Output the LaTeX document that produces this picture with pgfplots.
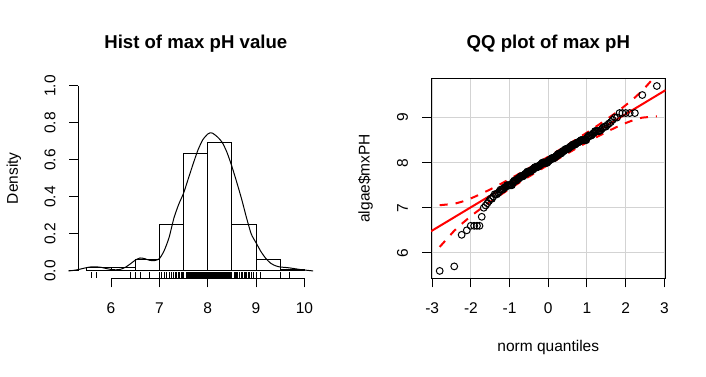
\documentclass[border=0pt]{standalone}
\usepackage{pgfplots}
\pgfplotsset{compat=1.18}
\usepackage{pgfplotstable}
\usepackage{fontspec}
\setmainfont{Liberation Sans}
\definecolor{rgray}{HTML}{D3D3D3}
\definecolor{rred}{HTML}{FF0000}
\newcommand\lab{\fontsize{15.5pt}{18pt}\selectfont}
\newcommand\ttl{\fontsize{18.6pt}{22pt}\selectfont\bfseries}

% sorted max pH values (v) against normal quantiles (z); r = rug height
\pgfplotstableread{
z v r
-2.807 5.6 -0.024
-2.431 5.7 -0.024
-2.239 6.4 -0.024
-2.106 6.5 -0.024
-2.003 6.6 -0.024
-1.916 6.6 -0.024
-1.843 6.6 -0.024
-1.778 6.6 -0.024
-1.720 6.8 -0.024
-1.667 7.0 -0.024
-1.619 7.05 -0.024
-1.574 7.1 -0.024
-1.532 7.15 -0.024
-1.492 7.2 -0.024
-1.455 7.2 -0.024
-1.420 7.25 -0.024
-1.386 7.3 -0.024
-1.354 7.3 -0.024
-1.323 7.3 -0.024
-1.294 7.33 -0.024
-1.265 7.36 -0.024
-1.237 7.4 -0.024
-1.210 7.4 -0.024
-1.185 7.4 -0.024
-1.160 7.42 -0.024
-1.135 7.45 -0.024
-1.112 7.45 -0.024
-1.089 7.47 -0.024
-1.066 7.5 -0.024
-1.044 7.5 -0.024
-1.022 7.5 -0.024
-1.001 7.5 -0.024
-0.981 7.5 -0.024
-0.961 7.5 -0.024
-0.941 7.5 -0.024
-0.922 7.55 -0.024
-0.903 7.57 -0.024
-0.884 7.6 -0.024
-0.865 7.6 -0.024
-0.847 7.6 -0.024
-0.830 7.6 -0.024
-0.812 7.62 -0.024
-0.795 7.64 -0.024
-0.777 7.65 -0.024
-0.760 7.65 -0.024
-0.744 7.66 -0.024
-0.727 7.68 -0.024
-0.711 7.7 -0.024
-0.695 7.7 -0.024
-0.678 7.7 -0.024
-0.663 7.7 -0.024
-0.647 7.7 -0.024
-0.632 7.72 -0.024
-0.616 7.73 -0.024
-0.601 7.75 -0.024
-0.586 7.75 -0.024
-0.571 7.76 -0.024
-0.556 7.78 -0.024
-0.542 7.8 -0.024
-0.527 7.8 -0.024
-0.513 7.8 -0.024
-0.498 7.8 -0.024
-0.484 7.8 -0.024
-0.470 7.8 -0.024
-0.456 7.81 -0.024
-0.442 7.83 -0.024
-0.428 7.83 -0.024
-0.414 7.84 -0.024
-0.401 7.85 -0.024
-0.387 7.85 -0.024
-0.374 7.87 -0.024
-0.360 7.88 -0.024
-0.347 7.9 -0.024
-0.334 7.9 -0.024
-0.321 7.9 -0.024
-0.307 7.9 -0.024
-0.294 7.9 -0.024
-0.281 7.9 -0.024
-0.268 7.91 -0.024
-0.255 7.92 -0.024
-0.242 7.93 -0.024
-0.229 7.93 -0.024
-0.216 7.94 -0.024
-0.203 7.95 -0.024
-0.190 7.96 -0.024
-0.177 7.97 -0.024
-0.164 7.98 -0.024
-0.152 8.0 -0.024
-0.139 8.0 -0.024
-0.126 8.0 -0.024
-0.114 8.0 -0.024
-0.101 8.0 -0.024
-0.088 8.0 -0.024
-0.076 8.0 -0.024
-0.063 8.0 -0.024
-0.050 8.0 -0.024
-0.038 8.0 -0.024
-0.025 8.0 -0.024
-0.013 8.02 -0.024
0.000 8.03 -0.024
0.013 8.05 -0.024
0.025 8.05 -0.024
0.038 8.06 -0.024
0.050 8.06 -0.024
0.063 8.07 -0.024
0.076 8.08 -0.024
0.088 8.1 -0.024
0.101 8.1 -0.024
0.114 8.1 -0.024
0.126 8.1 -0.024
0.139 8.1 -0.024
0.152 8.1 -0.024
0.164 8.11 -0.024
0.177 8.12 -0.024
0.190 8.13 -0.024
0.203 8.15 -0.024
0.216 8.15 -0.024
0.229 8.16 -0.024
0.242 8.17 -0.024
0.255 8.19 -0.024
0.268 8.2 -0.024
0.281 8.2 -0.024
0.294 8.2 -0.024
0.307 8.2 -0.024
0.321 8.2 -0.024
0.334 8.21 -0.024
0.347 8.22 -0.024
0.360 8.24 -0.024
0.374 8.25 -0.024
0.387 8.25 -0.024
0.401 8.26 -0.024
0.414 8.27 -0.024
0.428 8.28 -0.024
0.442 8.3 -0.024
0.456 8.3 -0.024
0.470 8.3 -0.024
0.484 8.3 -0.024
0.498 8.3 -0.024
0.513 8.31 -0.024
0.527 8.32 -0.024
0.542 8.33 -0.024
0.556 8.35 -0.024
0.571 8.35 -0.024
0.586 8.36 -0.024
0.601 8.37 -0.024
0.616 8.38 -0.024
0.632 8.4 -0.024
0.647 8.4 -0.024
0.663 8.4 -0.024
0.678 8.4 -0.024
0.695 8.4 -0.024
0.711 8.42 -0.024
0.727 8.43 -0.024
0.744 8.44 -0.024
0.760 8.45 -0.024
0.777 8.45 -0.024
0.795 8.46 -0.024
0.812 8.47 -0.024
0.830 8.48 -0.024
0.847 8.5 -0.024
0.865 8.5 -0.024
0.884 8.5 -0.024
0.903 8.5 -0.024
0.922 8.5 -0.024
0.941 8.5 -0.024
0.961 8.5 -0.024
0.981 8.5 -0.024
1.001 8.55 -0.024
1.022 8.57 -0.024
1.044 8.6 -0.024
1.066 8.6 -0.024
1.089 8.6 -0.024
1.112 8.6 -0.024
1.135 8.62 -0.024
1.160 8.65 -0.024
1.185 8.66 -0.024
1.210 8.7 -0.024
1.237 8.7 -0.024
1.265 8.7 -0.024
1.294 8.7 -0.024
1.323 8.7 -0.024
1.354 8.72 -0.024
1.386 8.75 -0.024
1.420 8.78 -0.024
1.455 8.8 -0.024
1.492 8.8 -0.024
1.532 8.84 -0.024
1.574 8.87 -0.024
1.619 8.9 -0.024
1.667 8.95 -0.024
1.720 9.0 -0.024
1.778 9.0 -0.024
1.843 9.1 -0.024
1.916 9.1 -0.024
2.003 9.1 -0.024
2.106 9.1 -0.024
2.239 9.1 -0.024
2.431 9.5 -0.024
2.807 9.7 -0.024
}\qq

\begin{document}
\begin{tikzpicture}
\path[use as bounding box] (0pt,0pt) rectangle (706pt,376pt);

% ---------------- Left: histogram ----------------
\begin{axis}[at={(78.4pt,97.7pt)}, anchor=south west, scale only axis,
  width=234.7pt, height=199.7pt,
  xmin=5.325, xmax=10.18, ymin=-0.04, ymax=1.04,
  axis line style={draw=none},
  xtick={6,7,8,9,10}, ytick={0,0.2,0.4,0.6,0.8,1},
  xticklabels={}, yticklabels={},
  xtick pos=left, ytick pos=left, tick align=outside,
  major tick length=9pt, tick style={black, line width=1pt},
  clip=false]
\addplot[ybar interval, draw=black, fill=none, line width=1pt] coordinates {
 (5.5,0.0201) (6.0,0.0201) (6.5,0.0603) (7.0,0.2513) (7.5,0.6332)
 (8.0,0.6935) (8.5,0.2513) (9.0,0.0603) (9.5,0.0101) (10.0,0.0101)};
\addplot[black, line width=1pt, smooth, tension=0.4] coordinates {
 (5.12,0) (5.2,0.002) (5.3,0.006) (5.4,0.012) (5.5,0.018) (5.6,0.022)
 (5.7,0.022) (5.8,0.019) (5.9,0.013) (6.0,0.008) (6.1,0.006) (6.2,0.009)
 (6.3,0.02) (6.4,0.038) (6.5,0.058) (6.6,0.07) (6.7,0.066) (6.8,0.057)
 (6.9,0.056) (7.0,0.066) (7.1,0.11) (7.2,0.18) (7.3,0.285) (7.4,0.36)
 (7.5,0.42) (7.6,0.5) (7.7,0.58) (7.8,0.655) (7.9,0.71) (8.0,0.74)
 (8.05,0.747) (8.1,0.745) (8.2,0.725) (8.3,0.695) (8.4,0.64) (8.5,0.565)
 (8.6,0.48) (8.7,0.39) (8.8,0.29) (8.9,0.2) (9.0,0.152) (9.1,0.105)
 (9.2,0.068) (9.3,0.042) (9.4,0.028) (9.5,0.021) (9.6,0.019) (9.7,0.016)
 (9.8,0.012) (9.9,0.008) (10.0,0.005) (10.1,0.002) (10.18,0)};
\addplot[only marks, mark=|, mark size=3.1pt, mark options={black, line width=0.8pt}]
  table[x=v, y=r] {\qq};
\end{axis}
% left axis lines
\draw[line width=1pt] (111.0pt,97.7pt) -- (304.4pt,97.7pt);
\draw[line width=1pt] (78.4pt,105.1pt) -- (78.4pt,290.0pt);

% ---------------- Right: QQ plot ----------------
\begin{axis}[at={(431pt,97.7pt)}, anchor=south west, scale only axis,
  width=234.5pt, height=199.7pt,
  xmin=-3.0316, xmax=3.0316, ymin=5.436, ymax=9.864,
  xtick={-3,-2,-1,0,1,2,3}, ytick={6,7,8,9},
  xticklabels={}, yticklabels={},
  xtick pos=left, ytick pos=left, tick align=outside,
  major tick length=9pt, tick style={black, line width=1pt},
  axis line style={black, line width=1pt},
  grid=major, major grid style={rgray, line width=1pt}]
\addplot[only marks, mark=o, mark size=3.4pt, mark options={draw=black, line width=1pt}]
  table[x=z, y=v] {\qq};
\addplot[rred, line width=2pt] coordinates {(-3.0316,6.479) (3.0316,9.607)};
\addplot[rred, line width=2pt, dash pattern=on 8pt off 8pt] coordinates {
 (-2.807,7.057) (-2.431,7.087) (-2.239,7.133) (-2.106,7.173) (-2.003,7.208)
 (-1.916,7.239) (-1.843,7.267) (-1.778,7.292) (-1.720,7.315) (-1.667,7.337)
 (-1.5,7.407) (-1.25,7.519) (-1.0,7.635) (-0.75,7.756) (-0.5,7.879)
 (-0.25,8.005) (0,8.133) (0.25,8.263) (0.5,8.395) (0.75,8.530) (1.0,8.667)
 (1.25,8.809) (1.5,8.955) (1.667,9.057) (1.720,9.090) (1.778,9.126)
 (1.843,9.169) (1.916,9.216) (2.003,9.275) (2.106,9.347) (2.239,9.444)
 (2.431,9.596) (2.807,9.954)};
\addplot[rred, line width=2pt, dash pattern=on 8pt off 8pt] coordinates {
 (-2.807,6.132) (-2.431,6.490) (-2.239,6.642) (-2.106,6.739) (-2.003,6.811)
 (-1.916,6.870) (-1.843,6.917) (-1.778,6.959) (-1.720,6.996) (-1.667,7.029)
 (-1.5,7.131) (-1.25,7.277) (-1.0,7.419) (-0.75,7.556) (-0.5,7.691)
 (-0.25,7.823) (0,7.953) (0.25,8.081) (0.5,8.207) (0.75,8.330) (1.0,8.451)
 (1.25,8.567) (1.5,8.679) (1.667,8.749) (1.720,8.771) (1.778,8.794)
 (1.843,8.819) (1.916,8.847) (2.003,8.878) (2.106,8.913) (2.239,8.953)
 (2.431,8.999) (2.807,9.028)};
\end{axis}

% ---------------- Text ----------------
\node[anchor=base, font=\ttl] at (195.8pt,327.7pt) {Hist of max pH value};
\node[anchor=base, font=\ttl] at (548.3pt,327.7pt) {QQ plot of max pH};
% left x tick labels
\foreach \x/\t in {111.0/6, 159.4/7, 207.7/8, 256.0/9, 304.4/10}
  \node[anchor=base, font=\lab, inner sep=0pt] at (\x pt,62.7pt) {\t};
% left y tick labels
\foreach \y/\t in {105.1/0.0, 142.1/0.2, 179.1/0.4, 216.1/0.6, 253.0/0.8, 290.0/1.0}
  \node[anchor=base, rotate=90, font=\lab, inner sep=0pt] at (55.3pt,\y pt) {\t};
\node[anchor=base, rotate=90, font=\lab, inner sep=0pt] at (17.8pt,197.7pt) {Density};
% right x tick labels
\foreach \x/\t in {432.2/-3, 470.9/-2, 509.6/-1, 548.25/0, 586.9/1, 625.6/2, 664.3/3}
  \node[anchor=base, font=\lab, inner sep=0pt] at (\x pt,62.7pt) {\t};
% right y tick labels
\foreach \y/\t in {123.1/6, 168.2/7, 213.3/8, 258.4/9}
  \node[anchor=base, rotate=90, font=\lab, inner sep=0pt] at (407.9pt,\y pt) {\t};
\node[anchor=base, rotate=90, font=\lab, inner sep=0pt] at (369.5pt,197.7pt) {algae\$mxPH};
\node[anchor=base, font=\lab, inner sep=0pt] at (548.3pt,25pt) {norm quantiles};
\end{tikzpicture}
\end{document}
